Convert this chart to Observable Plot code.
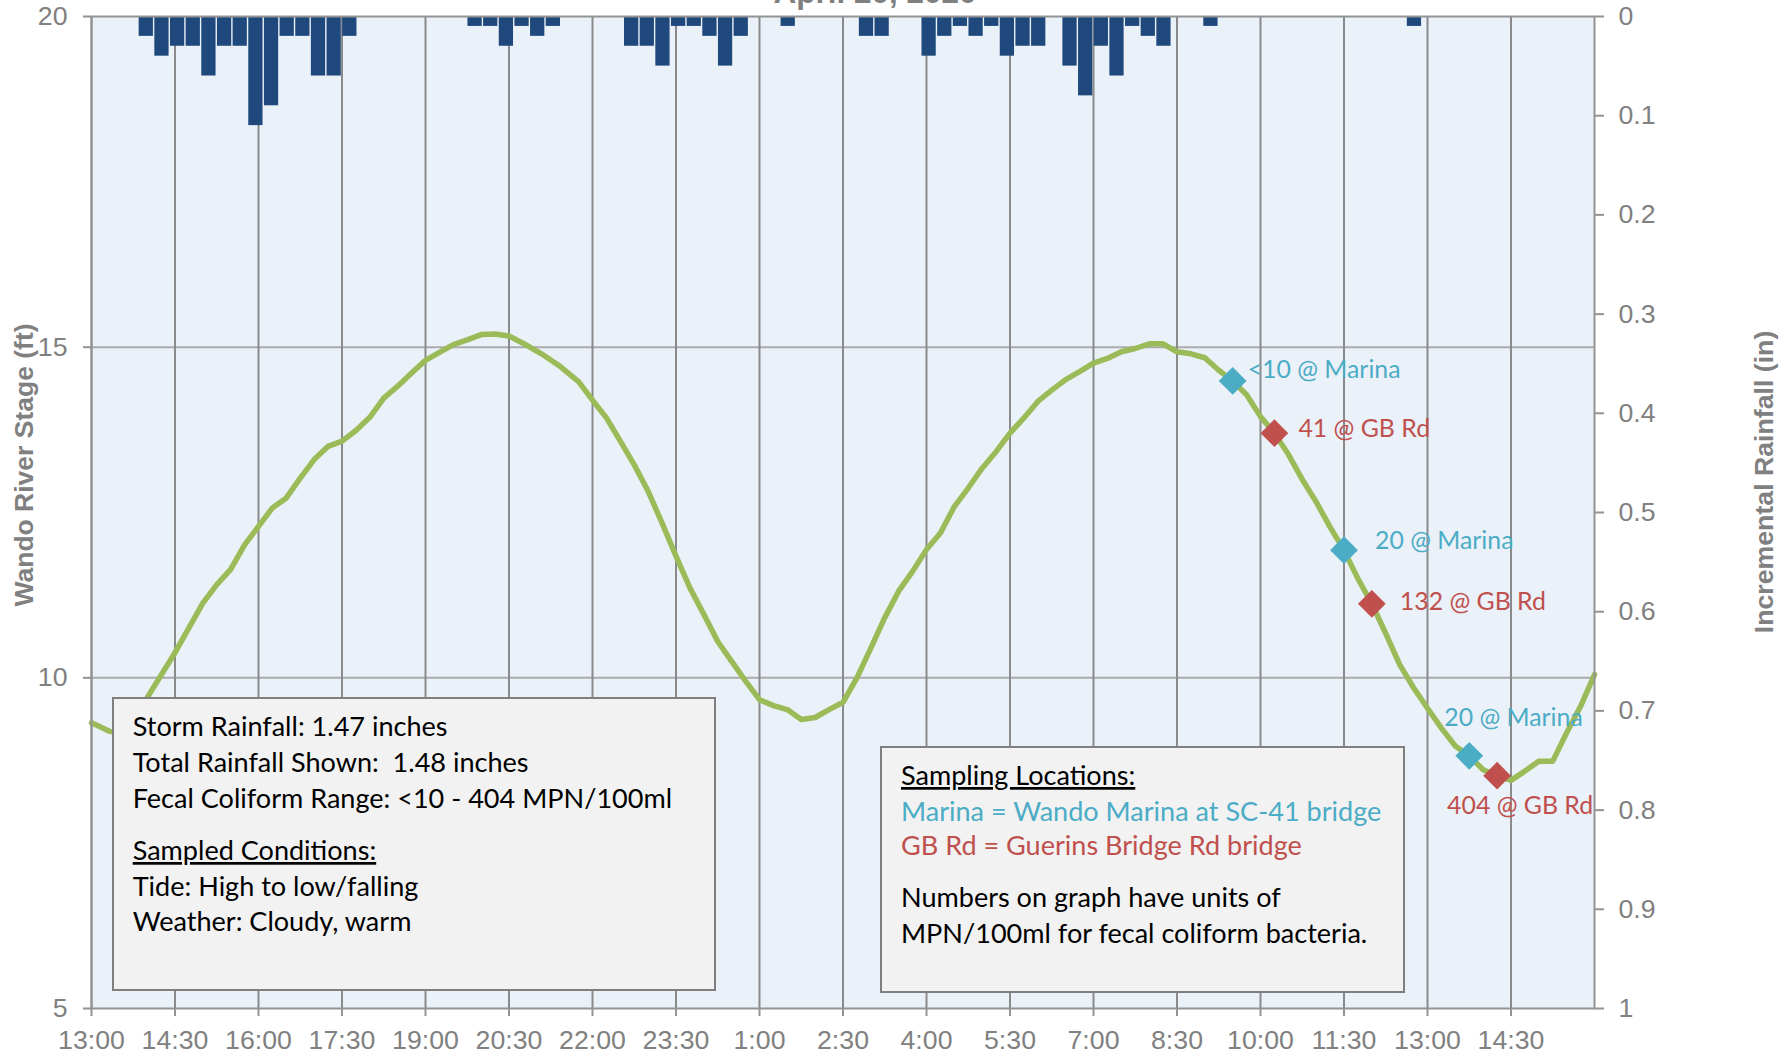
<!DOCTYPE html>
<html>
<head>
<meta charset="utf-8">
<script src="https://cdn.jsdelivr.net/npm/d3@7"></script>
<script src="https://cdn.jsdelivr.net/npm/@observablehq/plot@0.6"></script>
<style>
html, body { margin: 0; padding: 0; background: #ffffff; }
#wrap { position: relative; width: 1790px; height: 1055px; overflow: hidden; }
#wrap > svg { position: absolute; left: 0; top: 0; }
</style>
</head>
<body>
<div id="wrap"></div>
<script>
// ---------------- DATA ----------------
const chartTitle = "April 20, 2020";
const leftAxisTitle = "Wando River Stage (ft)";
const rightAxisTitle = "Incremental Rainfall (in)";

// Wando River stage (ft)
const stageTimes = [
  "04-19 13:00","04-19 13:20","04-19 13:30","04-19 13:45","04-19 14:00","04-19 14:30","04-19 15:00","04-19 15:15",
  "04-19 15:30","04-19 15:45","04-19 16:00","04-19 16:15","04-19 16:30","04-19 16:45","04-19 17:00","04-19 17:15",
  "04-19 17:30","04-19 17:45","04-19 18:00","04-19 18:15","04-19 18:30","04-19 18:45","04-19 19:00","04-19 19:15",
  "04-19 19:30","04-19 19:45","04-19 20:00","04-19 20:15","04-19 20:30","04-19 20:45","04-19 21:05","04-19 21:25",
  "04-19 21:45","04-19 22:00","04-19 22:15","04-19 22:30","04-19 22:45","04-19 23:00","04-19 23:15","04-19 23:30",
  "04-19 23:45","04-20 00:00","04-20 00:15","04-20 00:30","04-20 00:45","04-20 01:00","04-20 01:15","04-20 01:30",
  "04-20 01:45","04-20 02:00","04-20 02:15","04-20 02:30","04-20 02:45","04-20 03:00","04-20 03:15","04-20 03:30",
  "04-20 03:45","04-20 04:00","04-20 04:15","04-20 04:30","04-20 04:45","04-20 05:00","04-20 05:15","04-20 05:30",
  "04-20 05:45","04-20 06:00","04-20 06:15","04-20 06:30","04-20 06:45","04-20 07:00","04-20 07:15","04-20 07:30",
  "04-20 07:45","04-20 08:00","04-20 08:15","04-20 08:30","04-20 08:45","04-20 09:00","04-20 09:15","04-20 09:30",
  "04-20 09:45","04-20 10:00","04-20 10:15","04-20 10:30","04-20 10:45","04-20 11:00","04-20 11:15","04-20 11:30",
  "04-20 11:45","04-20 12:00","04-20 12:15","04-20 12:30","04-20 12:45","04-20 13:00","04-20 13:15","04-20 13:30",
  "04-20 13:45","04-20 14:00","04-20 14:15","04-20 14:30","04-20 14:45","04-20 15:00","04-20 15:15","04-20 15:30",
  "04-20 15:45","04-20 16:00"
];
const stageFeet = [
  9.32, 9.19, 9.17, 9.35, 9.70, 10.38, 11.13, 11.41,
  11.64, 12.01, 12.29, 12.57, 12.72, 13.02, 13.30, 13.50,
  13.58, 13.74, 13.94, 14.23, 14.41, 14.61, 14.80, 14.92,
  15.04, 15.11, 15.19, 15.20, 15.17, 15.06, 14.90, 14.71,
  14.48, 14.20, 13.93, 13.58, 13.22, 12.82, 12.34, 11.84,
  11.36, 10.96, 10.55, 10.25, 9.95, 9.67, 9.58, 9.52,
  9.37, 9.40, 9.52, 9.63, 10.00, 10.45, 10.91, 11.31,
  11.61, 11.94, 12.19, 12.59, 12.87, 13.17, 13.42, 13.70,
  13.93, 14.18, 14.35, 14.51, 14.63, 14.76, 14.83, 14.93,
  14.98, 15.05, 15.05, 14.93, 14.90, 14.84, 14.65, 14.49,
  14.28, 13.95, 13.70, 13.38, 13.00, 12.66, 12.28, 11.93,
  11.50, 11.12, 10.67, 10.20, 9.85, 9.54, 9.24, 8.97,
  8.82, 8.61, 8.52, 8.45, 8.59, 8.74, 8.74, 9.17,
  9.57, 10.05
];

// Incremental rainfall (in), 96 bars on the chart's secondary category axis
const rainfall = [
  0, 0, 0, 0.02, 0.04, 0.03, 0.03, 0.06, 0.03, 0.03, 0.11, 0.09, 0.02, 0.02, 0.06, 0.06,
  0.02, 0, 0, 0, 0, 0, 0, 0, 0.01, 0.01, 0.03, 0.01, 0.02, 0.01, 0, 0,
  0, 0, 0.03, 0.03, 0.05, 0.01, 0.01, 0.02, 0.05, 0.02, 0, 0, 0.01, 0, 0, 0,
  0, 0.02, 0.02, 0, 0, 0.04, 0.02, 0.01, 0.02, 0.01, 0.04, 0.03, 0.03, 0, 0.05, 0.08,
  0.03, 0.06, 0.01, 0.02, 0.03, 0, 0, 0.01, 0, 0, 0, 0, 0, 0, 0, 0,
  0, 0, 0, 0, 0.01, 0, 0, 0, 0, 0, 0, 0, 0, 0, 0, 0
];

// Fecal coliform samples
const sampleTimes = ["04-20 09:30", "04-20 10:15", "04-20 11:30", "04-20 12:00", "04-20 13:45", "04-20 14:15"];
const sampleStage = [14.49, 13.70, 11.93, 11.12, 8.82, 8.52];
const sampleResult = ["<10", "41", "20", "132", "20", "404"];
const sampleSite = ["Marina", "GB Rd", "Marina", "GB Rd", "Marina", "GB Rd"];

// Axes
const xTickLabels = ["13:00","14:30","16:00","17:30","19:00","20:30","22:00","23:30","1:00","2:30",
                     "4:00","5:30","7:00","8:30","10:00","11:30","13:00","14:30"];
const xStart = "04-19 13:00", xEnd = "04-20 16:00";
const stageTicks = [5, 10, 15, 20];
const stageGrid = [10, 15];
const rainTicks = [0, 0.1, 0.2, 0.3, 0.4, 0.5, 0.6, 0.7, 0.8, 0.9, 1];

// Text boxes
const infoLines = ["Storm Rainfall: 1.47 inches", "Total Rainfall Shown:  1.48 inches",
                   "Fecal Coliform Range: <10 - 404 MPN/100ml"];
const conditionsHead = "Sampled Conditions:";
const conditionsLines = ["Tide: High to low/falling", "Weather: Cloudy, warm"];
const locationsHead = "Sampling Locations:";
const locationsLines = ["Marina = Wando Marina at SC-41 bridge", "GB Rd = Guerins Bridge Rd bridge"];
const unitsLines = ["Numbers on graph have units of", "MPN/100ml for fecal coliform bacteria."];

// ---------------- STYLE ----------------
const C = {
  plotBg: "#EBF1F8", gridV: "#8A8A8A", gridH: "#ABABAB", frame: "#939393",
  bars: "#1F497D", line: "#9BBB59", marina: "#4BACC6", gb: "#C0504D",
  axisText: "#808080", boxFill: "#F2F2F2", boxStroke: "#7F7F7F"
};
const siteColor = {"Marina": C.marina, "GB Rd": C.gb};
const annFont = "Lato, 'Noto Sans', sans-serif";
const axisFont = "'Liberation Sans', Arial, sans-serif";

function fitSize(text, family, weight, target) {
  const ctx = document.createElement("canvas").getContext("2d");
  ctx.font = `${weight} 100px ${family}`;
  return 100 * target / ctx.measureText(text).width;
}
const boxFontSize = fitSize(infoLines[0], annFont, "normal", 315);
const labelFontSize = fitSize("<10 @ Marina", annFont, "normal", 153);

// ---------------- BUILD ----------------
const parseT = s => d3.utcParse("%Y-%m-%d %H:%M")("2020-" + s);
const stage = stageTimes.map((t, i) => ({t: parseT(t), v: stageFeet[i]}));
const t0 = parseT(xStart), t1 = parseT(xEnd);
const step = (t1 - t0) / rainfall.length;
const rainBars = rainfall.map((r, i) => ({x1: new Date(+t0 + i * step), x2: new Date(+t0 + (i + 1) * step), r}))
  .filter(d => d.r > 0);
const toStage = r => 20 - 15 * r;      // rainfall axis (0 at top, 1 at bottom) shares the frame
const samples = sampleTimes.map((t, i) => ({
  t: parseT(t), v: sampleStage[i], site: sampleSite[i], label: `${sampleResult[i]} @ ${sampleSite[i]}`
}));

// tick dates from the tick labels (day rolls over when hour decreases)
let day = 19, prevH = -1;
const xTicks = xTickLabels.map(l => {
  const [h, m] = l.split(":").map(Number);
  if (h < prevH) day += 1;
  prevH = h;
  return new Date(Date.UTC(2020, 3, day, h, m));
});

const labelOffsets = [[15, -11], [24, -4], [31, -9], [28, -2], [-25, -38], [-50, 30]];

const plot = Plot.plot({
  width: 1790, height: 1055,
  marginTop: 16, marginBottom: 47, marginLeft: 91, marginRight: 196,
  x: {type: "utc", domain: [t0, t1]},
  y: {domain: [5, 20]},
  style: {fontFamily: axisFont, fontSize: "26.7px", color: C.axisText, background: "transparent", overflow: "visible"},
  marks: [
    Plot.frame({fill: C.plotBg, stroke: null}),
    Plot.gridY({ticks: stageGrid, stroke: C.gridH, strokeOpacity: 1, strokeWidth: 2}),
    Plot.gridX({ticks: xTicks, stroke: C.gridV, strokeOpacity: 1, strokeWidth: 2}),
    Plot.rect(rainBars, {x1: "x1", x2: "x2", y1: () => toStage(0), y2: d => toStage(d.r),
      fill: C.bars, insetLeft: 0.7, insetRight: 0.7}),
    Plot.line(stage, {x: "t", y: "v", stroke: C.line, strokeWidth: 5.5, strokeLinejoin: "round", strokeLinecap: "round"}),
    Plot.dot(samples, {x: "t", y: "v", symbol: "diamond2", r: 12.5, fill: d => siteColor[d.site], stroke: null}),
    ...samples.map((s, i) => Plot.text([s], {
      x: "t", y: "v", text: "label", dx: labelOffsets[i][0], dy: labelOffsets[i][1],
      textAnchor: "start", lineAnchor: "middle", fill: siteColor[s.site],
      fontFamily: annFont, fontSize: labelFontSize
    })),
    Plot.frame({stroke: C.frame, strokeWidth: 2}),
    Plot.axisX({ticks: xTicks, tickFormat: d3.utcFormat("%-H:%M"), tickSize: 8, tickPadding: 14,
      label: null, stroke: C.frame, strokeWidth: 2, fill: C.axisText}),
    Plot.axisY({anchor: "left", ticks: stageTicks, tickSize: 8, tickPadding: 16, label: null,
      stroke: C.frame, strokeWidth: 2, fill: C.axisText}),
    Plot.axisY({anchor: "right", ticks: rainTicks.map(toStage),
      tickFormat: s => d3.format("~g")(Math.round((20 - s) / 15 * 10) / 10),
      tickSize: 9, tickPadding: 15, label: null, stroke: C.frame, strokeWidth: 2, fill: C.axisText})
  ]
});
const wrap = document.getElementById("wrap");
wrap.appendChild(plot);

// ---------------- OVERLAY: titles and text boxes ----------------
const ov = d3.select(wrap).append("svg").attr("width", 1790).attr("height", 1055)
  .style("font-family", annFont);

ov.append("text").attr("x", 875).attr("y", 2.5).attr("text-anchor", "middle")
  .attr("font-family", axisFont).attr("font-weight", "bold").attr("font-size", 31.5)
  .attr("fill", C.axisText).text(chartTitle);

ov.append("text").attr("transform", "translate(24,465) rotate(-90)").attr("text-anchor", "middle")
  .attr("dominant-baseline", "central").attr("font-family", axisFont).attr("font-weight", "bold")
  .attr("font-size", 26.5).attr("fill", C.axisText).text(leftAxisTitle);
ov.append("text").attr("transform", "translate(1764,482) rotate(-90)").attr("text-anchor", "middle")
  .attr("dominant-baseline", "central").attr("font-family", axisFont).attr("font-weight", "bold")
  .attr("font-size", 26.7).attr("fill", C.axisText).text(rightAxisTitle);

function box(x, y, w, h, tx, lines) {
  const g = ov.append("g");
  g.append("rect").attr("x", x).attr("y", y).attr("width", w).attr("height", h)
    .attr("fill", C.boxFill).attr("stroke", C.boxStroke).attr("stroke-width", 2);
  lines.forEach(l => {
    g.append("text").attr("x", tx).attr("y", l.y).attr("font-size", boxFontSize)
      .attr("fill", l.color || "#000").style("white-space", "pre")
      .attr("text-decoration", l.u ? "underline" : null).text(l.text);
  });
}
box(113, 698, 602, 292, 132.7, [
  {text: infoLines[0], y: 736},
  {text: infoLines[1], y: 771.7},
  {text: infoLines[2], y: 807.7},
  {text: conditionsHead, y: 860, u: true},
  {text: conditionsLines[0], y: 896},
  {text: conditionsLines[1], y: 931}
]);
box(881, 747, 523, 245, 901, [
  {text: locationsHead, y: 785, u: true},
  {text: locationsLines[0], y: 821, color: C.marina},
  {text: locationsLines[1], y: 855, color: C.gb},
  {text: unitsLines[0], y: 906.7},
  {text: unitsLines[1], y: 942.7}
]);
</script>
</body>
</html>
